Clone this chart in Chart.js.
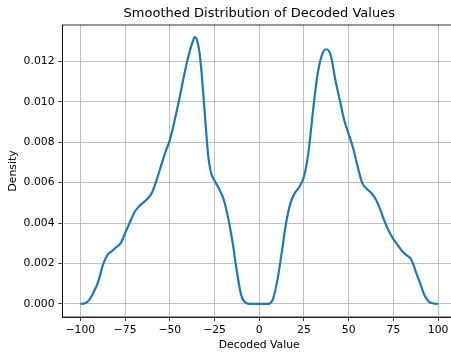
<!DOCTYPE html>
<html>
<head>
<meta charset="utf-8">
<script src="https://cdn.jsdelivr.net/npm/chart.js@4.4.1/dist/chart.umd.min.js"></script>
<style>
  html, body { margin: 0; padding: 0; background: #fff; overflow: hidden; width: 451px; height: 352px; }
  canvas { display: block; }
</style>
</head>
<body>
<canvas id="kde-chart" width="460" height="352"></canvas>
<script>
// Values
var decodedValues = [-100, -97.5, -95, -92.5, -90, -87.5, -85, -82.5, -80, -77.5, -75, -72.5, -70, -67.5, -65, -62.5,
    -60, -57.5, -55, -52.5, -50, -47.5, -45, -42.5, -40, -37.5, -36, -35, -33.5, -32, -30, -28.5, -27, -25,
    -22.5, -20, -17.5, -15, -12.5, -10, -7.5, -5, 0, 5, 7.5, 10, 12.5, 15, 17.5, 20, 22.5, 25, 27.5, 30,
    32.5, 35, 37.5, 40, 42.5, 45, 47.5, 50, 52.5, 55, 57.5, 60, 62.5, 65, 67.5, 70, 72.5, 75, 77.5, 80,
    82.5, 85, 87.5, 90, 92.5, 95, 97.5, 100];
var densities = [0, 0.00003, 0.0002, 0.0006, 0.0011, 0.0019, 0.0024, 0.0026, 0.0028, 0.0030, 0.0035, 0.0040, 0.0045, 0.0048, 0.0050, 0.0052,
    0.0055, 0.0061, 0.0068, 0.0075, 0.0081, 0.0090, 0.0100, 0.0111, 0.0121, 0.0129, 0.0132, 0.0131, 0.0125, 0.0112, 0.0089, 0.0073, 0.0065, 0.0061,
    0.0057, 0.0052, 0.0043, 0.0031, 0.0016, 0.0004, 0.00005, 0, 0, 0, 0.0002, 0.0011, 0.0025, 0.0040, 0.0050, 0.0055, 0.0058, 0.0063, 0.0075, 0.0095,
    0.0113, 0.0123, 0.0126, 0.0123, 0.0111, 0.0101, 0.0091, 0.0084, 0.0077, 0.0068, 0.0060, 0.0057, 0.0055, 0.0052, 0.0047, 0.0041, 0.0036, 0.0032, 0.0029, 0.0026,
    0.0024, 0.0022, 0.0016, 0.0010, 0.0004, 0.0001, 0.00002, 0];
var xTicks = [-100, -75, -50, -25, 0, 25, 50, 75, 100];
var yTicks = [0, 0.002, 0.004, 0.006, 0.008, 0.010, 0.012];

var points = decodedValues.map((v, i) => ({ x: v, y: densities[i] }));

var smallFont = { family: "DejaVu Sans", size: 10.8 };

// matplotlib style frame (top + right spines)
var frameBox = {
    id: 'frameBox',
    afterDatasetsDraw(chart) {
        var a = chart.chartArea;
        var c = chart.ctx;
        c.save();
        c.strokeStyle = '#000';
        c.lineWidth = 0.8;
        c.strokeRect(a.left, a.top, a.right - a.left, a.bottom - a.top);
        c.restore();
    }
};

var ctx = document.getElementById("kde-chart").getContext("2d");
new Chart(ctx, {
    type: "line",
    data: {
        datasets: [{
            data: points,
            borderColor: "#1f77b4",
            borderWidth: 2.2,
            pointRadius: 0,
            fill: false,
            cubicInterpolationMode: 'monotone'
        }]
    },
    options: {
        responsive: false,
        animation: false,
        layout: { padding: { left: 0, right: 4, top: 0, bottom: 0 } },
        plugins: {
            legend: { display: false },
            tooltip: { enabled: false },
            title: {
                display: true,
                text: "Smoothed Distribution of Decoded Values",
                fullSize: false,
                color: '#000',
                font: { family: "DejaVu Sans", size: 13, weight: 'normal', lineHeight: 1.2 },
                padding: { top: 5.5, bottom: 3.9 }
            }
        },
        scales: {
            x: {
                type: 'linear',
                min: -110,
                max: 110,
                afterBuildTicks: (scale) => { scale.ticks = xTicks.map(v => ({ value: v })); },
                afterFit: (scale) => { scale.height = 35; },
                grid: { color: '#b0b0b0', lineWidth: 0.8, tickColor: '#000', tickLength: 4, tickWidth: 0.8 },
                border: { display: true, color: '#000', width: 0.8 },
                ticks: {
                    color: '#000',
                    font: smallFont,
                    padding: 3,
                    maxRotation: 0,
                    callback: (v) => String(v).replace('-', '\u2212')
                },
                title: {
                    display: true,
                    text: "Decoded Value",
                    color: '#000',
                    font: smallFont,
                    padding: { top: 1, bottom: 0.5 }
                }
            },
            y: {
                min: -0.00065,
                max: 0.0138,
                afterBuildTicks: (scale) => { scale.ticks = yTicks.map(v => ({ value: v })); },
                afterFit: (scale) => { scale.width = 62.5; },
                grid: { color: '#b0b0b0', lineWidth: 0.8, tickColor: '#000', tickLength: 4, tickWidth: 0.8 },
                border: { display: true, color: '#000', width: 0.8 },
                ticks: {
                    color: '#000',
                    font: smallFont,
                    padding: 4,
                    callback: (v) => v.toFixed(3)
                },
                title: {
                    display: true,
                    text: "Density",
                    color: '#000',
                    font: smallFont,
                    padding: { top: 6.8, bottom: 0 }
                }
            }
        }
    },
    plugins: [frameBox]
});
</script>
</body>
</html>
